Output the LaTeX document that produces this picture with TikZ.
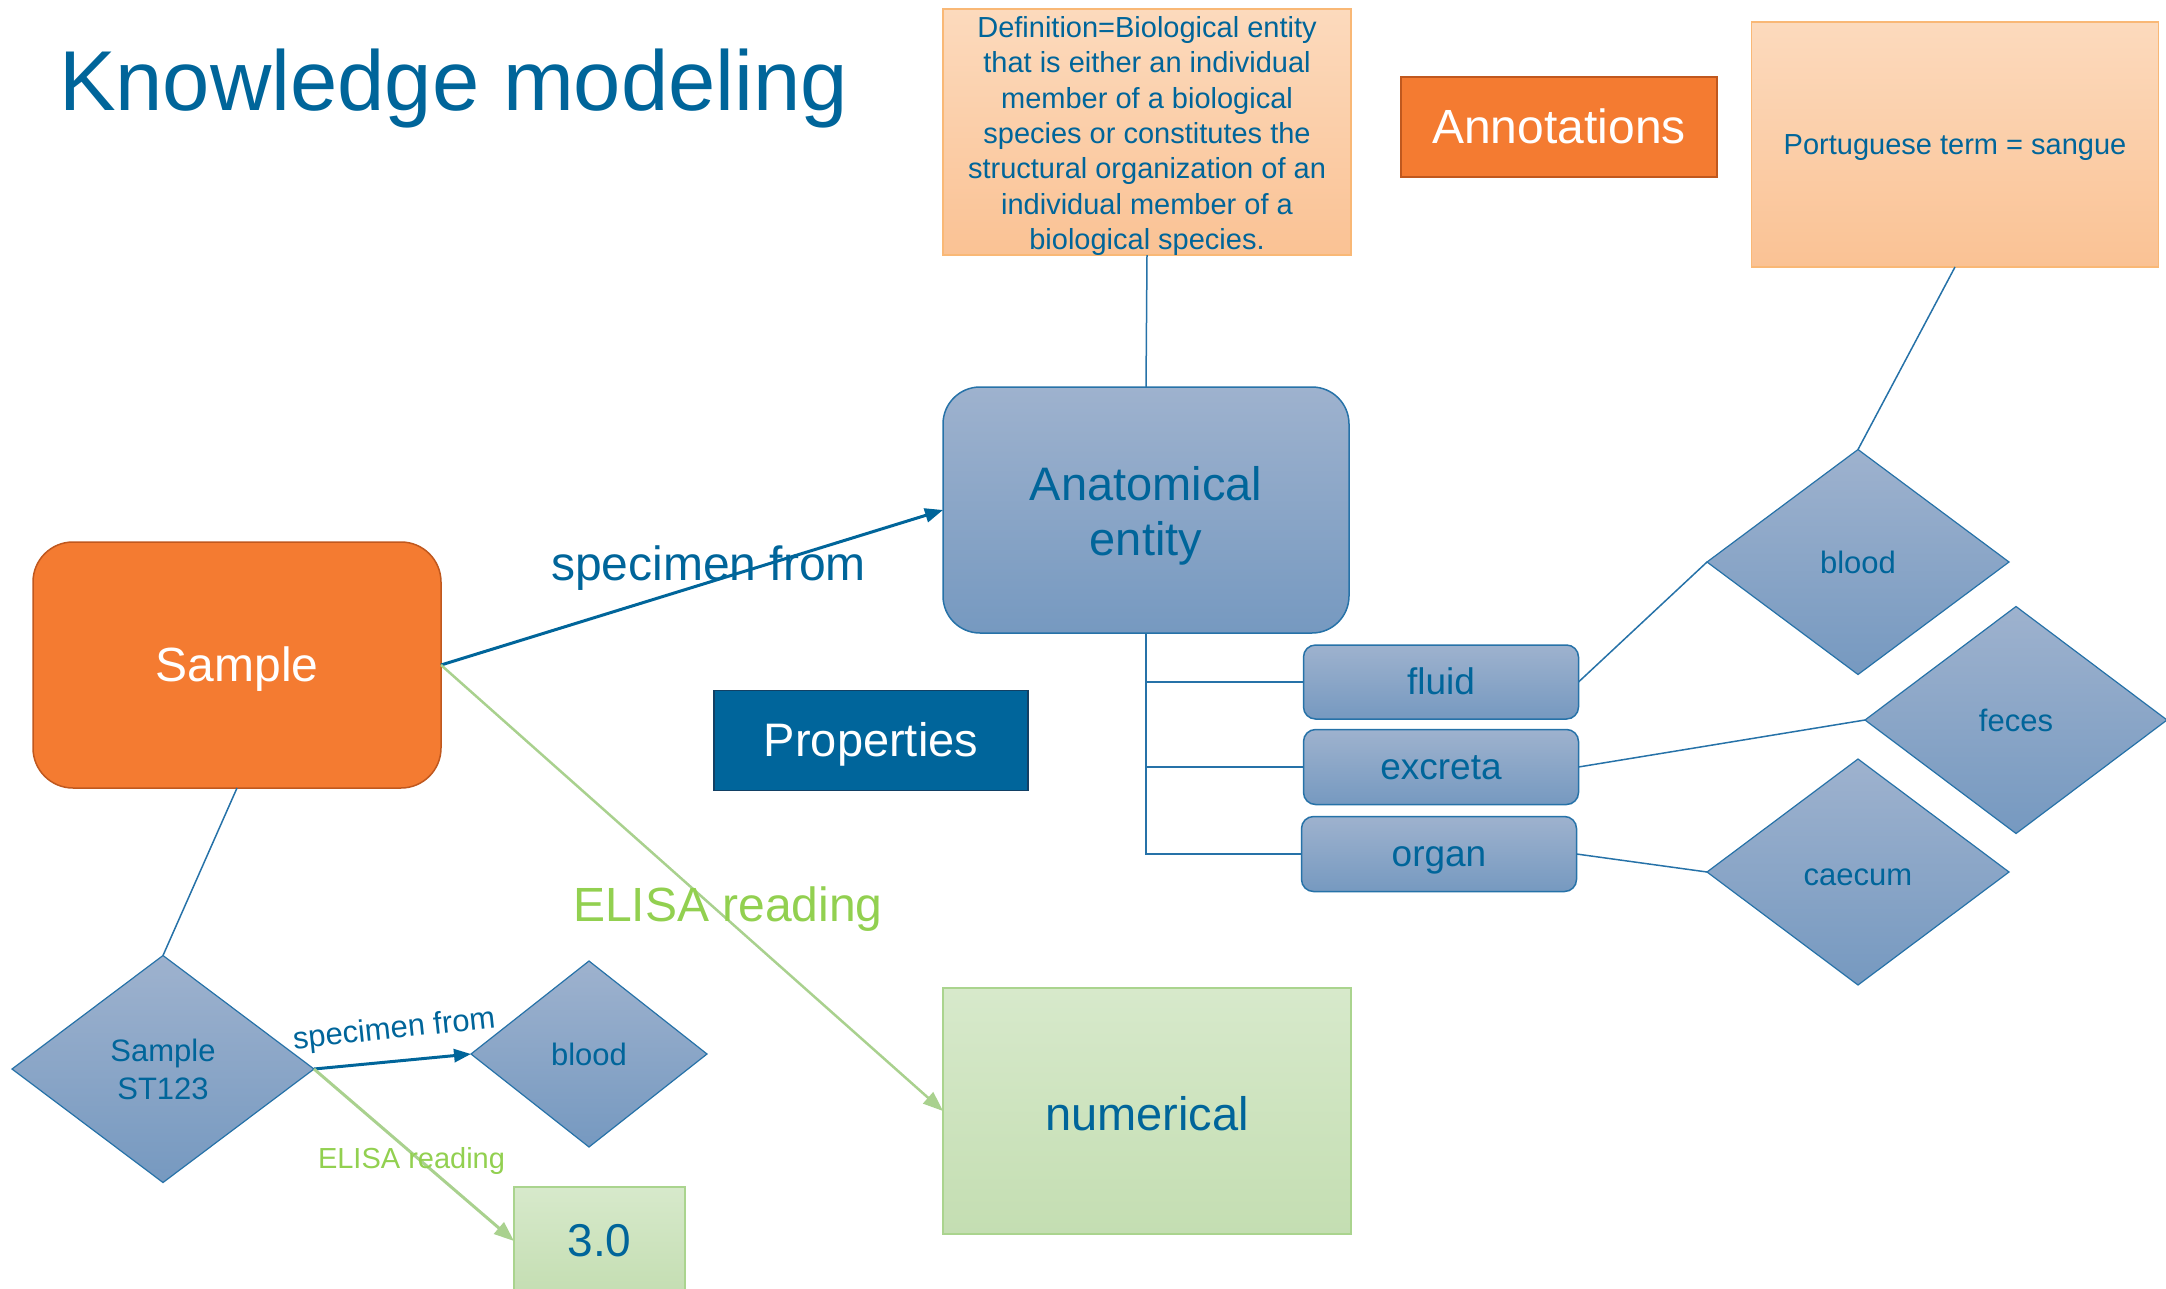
\documentclass[tikz,border=0pt]{standalone}
\usepackage{fontspec}
\setmainfont{Liberation Sans}
\usetikzlibrary{shapes.geometric,arrows.meta}

\definecolor{inkblue}{RGB}{0,101,154}
\definecolor{edgeblue}{RGB}{38,114,168}
\definecolor{bluetop}{RGB}{158,178,206}
\definecolor{bluebot}{RGB}{118,153,192}
\definecolor{peachtop}{RGB}{252,218,189}
\definecolor{peachbot}{RGB}{250,194,148}
\definecolor{peachedge}{RGB}{249,184,118}
\definecolor{orangefill}{RGB}{244,123,49}
\definecolor{orangeedge}{RGB}{192,88,30}
\definecolor{greentop}{RGB}{215,233,203}
\definecolor{greenbot}{RGB}{196,222,178}
\definecolor{greenedge}{RGB}{170,212,142}
\definecolor{greenline}{RGB}{169,209,142}
\definecolor{greentext}{RGB}{146,208,80}
\definecolor{navy}{RGB}{0,101,155}
\definecolor{navyedge}{RGB}{18,64,100}

\newcommand\fsz[2]{\fontsize{#1pt}{#2pt}\selectfont}

\tikzset{
  every node/.style={inner sep=0pt, outer sep=0pt},
  % one line of text boxed by the font's ascent and descent
  pline/.style={text height=0.905*#1pt, text depth=0.212*#1pt},
  bluebox/.style={draw=edgeblue, line width=1.5pt, top color=bluetop, bottom color=bluebot, text=inkblue},
  peachbox/.style={draw=peachedge, line width=1.5pt, top color=peachtop, bottom color=peachbot, text=inkblue},
  orangebox/.style={draw=orangeedge, line width=2pt, fill=orangefill, text=white},
  greenbox/.style={draw=greenedge, line width=1.5pt, top color=greentop, bottom color=greenbot, text=inkblue},
  gem/.style={diamond, bluebox, line width=1.2pt, align=center, font=\fsz{31}{38}},
  link/.style={draw=edgeblue, line width=1.5pt},
  bluearrow/.style={draw=inkblue, line width=3pt, -{Triangle[length=18pt,width=14pt]}},
  greenarrow/.style={draw=greenline, line width=3pt, -{Triangle[length=20pt,width=15pt]}},
}

\begin{document}
\begin{tikzpicture}[x=1pt, y=-1pt]
\useasboundingbox (0,0) rectangle (2166,1288);

% title
\node[anchor=base west, text=inkblue, font=\fsz{85}{100}] (title) at (59,110) {Knowledge modeling};

% annotation boxes
\node[peachbox, minimum width=408pt, minimum height=246pt] (def) at (1147,132) {};
\node[text=inkblue, align=center, font=\fsz{29}{35.3}] (deftext) at (1147,136)
  {Definition=Biological entity\\that is either an individual\\member of a biological\\species or constitutes the\\structural organization of an\\individual member of a\\biological species.};
\node[orangebox, pline=48, minimum width=316pt, minimum height=100pt, font=\fsz{48}{56}] (annot) at (1559,127) {Annotations};
\node[peachbox, pline=29, minimum width=407pt, minimum height=245pt, font=\fsz{29}{35}] (port) at (1955,144.5) {Portuguese term = sangue};

% main entities
\node[bluebox, rounded corners=37pt, minimum width=406pt, minimum height=246pt] (anat) at (1146,510) {};
\node[text=inkblue, align=center, font=\fsz{47}{55}] (anattext) at (1146,515.5) {Anatomical\\entity};
\node[orangebox, line width=1.5pt, pline=48, rounded corners=40pt, minimum width=408pt, minimum height=246pt, font=\fsz{48}{56}] (sample) at (237,665) {Sample};
\node[draw=navyedge, line width=1.5pt, fill=navy, text=white, pline=47, minimum width=314pt, minimum height=100pt, font=\fsz{47}{55}] (props) at (871,740.5) {Properties};
\node[greenbox, minimum width=408pt, minimum height=246pt] (num) at (1147,1111) {};
\node[text=inkblue, font=\fsz{47}{55}, anchor=base] (numtext) at (1147,1130) {numerical};

% subclasses
\node[bluebox, pline=37, rounded corners=12pt, minimum width=275pt, minimum height=74pt, font=\fsz{37}{44}] (fluid) at (1441,682) {fluid};
\node[bluebox, pline=37, rounded corners=12pt, minimum width=275pt, minimum height=75pt, font=\fsz{37}{44}] (excreta) at (1441,767) {excreta};
\node[bluebox, pline=37, rounded corners=12pt, minimum width=275pt, minimum height=75pt, font=\fsz{37}{44}] (organ) at (1439,854) {organ};

% instances
\node[gem, minimum width=302pt, minimum height=225pt] (dblood) at (1858,562) {blood};
\node[gem, minimum width=302pt, minimum height=227pt] (dfeces) at (2016,720) {feces};
\node[gem, minimum width=302pt, minimum height=226pt] (dcaecum) at (1858,872) {};
\node[text=inkblue, font=\fsz{31}{38}] (caecumtext) at (1858,877) {caecum};
\node[gem, minimum width=302pt, minimum height=227pt] (dst) at (163,1069) {Sample\\ST123};
\node[gem, minimum width=236pt, minimum height=186pt] (dblood2) at (589,1054) {blood};
\node[greenbox, minimum width=171pt, minimum height=108pt, font=\fsz{46}{54}] (three) at (599.5,1241) {3.0};

% thin links
\draw[link] (def.south) -- (anat.north);
\draw[link] (port.south) -- (dblood.north);
\draw[link] (sample.south) -- (dst.north);
\draw[link] (anat.south) -- (anat.south |- organ.west) -- (organ.west);
\draw[link] (anat.south |- fluid.west) -- (fluid.west);
\draw[link] (anat.south |- excreta.west) -- (excreta.west);
\draw[link] (fluid.east) -- (dblood.west);
\draw[link] (excreta.east) -- (dfeces.west);
\draw[link] (organ.east) -- (dcaecum.west);

% relations
\draw[bluearrow] (sample.east) -- (anat.west);
\draw[greenarrow, line width=2.5pt] (sample.east) -- (num.west);
\draw[bluearrow, -{Triangle[length=17pt,width=13pt]}] (dst.east) -- (dblood2.west);
\draw[greenarrow] (dst.east) -- (three.west);

% relation labels
\node[anchor=base west, text=inkblue, font=\fsz{48}{56}] (lspec) at (551,580) {specimen from};
\node[anchor=base west, text=greentext, font=\fsz{48}{56}] (lelisa) at (573,921) {ELISA reading};
\node[anchor=base west, rotate=6, text=inkblue, font=\fsz{31}{38}] (lspec2) at (294,1049) {specimen from};
\node[anchor=base west, text=greentext, font=\fsz{29}{35}] (lelisa2) at (318,1168) {ELISA reading};
\end{tikzpicture}
\end{document}
